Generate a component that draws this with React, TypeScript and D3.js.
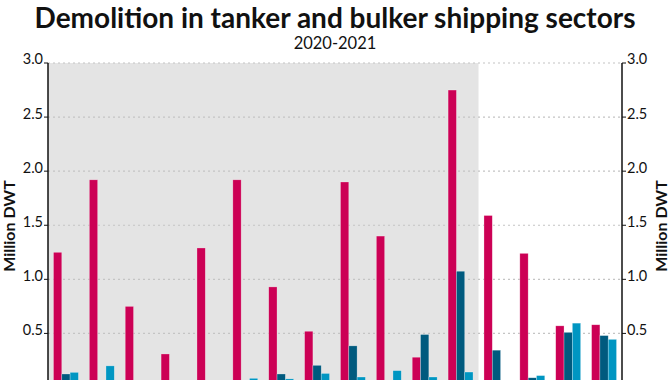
import React from "react";
import * as d3 from "d3";

const categories = ["1","2","3","4","5","6","7","8","9","10","11","12","13","14","15","16"];
const seriesNames = ["Tanker", "Bulker A", "Bulker B"];
const pinkValues = [1.25, 1.92, 0.75, 0.31, 1.29, 1.92, 0.93, 0.52, 1.90, 1.40, 0.28, 2.75, 1.59, 1.24, 0.57, 0.58];
const darkValues = [0.125, 0, 0, 0, 0, 0, 0.125, 0.205, 0.385, 0, 0.49, 1.075, 0.345, 0.09, 0.51, 0.48];
const lightValues = [0.14, 0.2, 0, 0, 0, 0.085, 0.08, 0.13, 0.097, 0.156, 0.097, 0.143, 0, 0.11, 0.595, 0.445];
const yTicks = [0.5, 1.0, 1.5, 2.0, 2.5, 3.0];
const shadedCount = 12;
const colors = ["#cc0055", "#005a7e", "#0096c2"];

const W = 670, H = 380;
const left = 48, right = 622, top = 63, zeroY = 387.5;

export default function App() {
  const x = d3.scaleBand<string>().domain(categories).range([left, right]).paddingInner(0.305).paddingOuter(0.1525);
  const xi = d3.scaleBand<string>().domain(seriesNames).range([0, x.bandwidth()]);
  const y = d3.scaleLinear().domain([0, 3]).range([zeroY, top]);
  const series = [pinkValues, darkValues, lightValues];
  const step = x.step();
  const font = "Lato, 'Open Sans', sans-serif";
  return (
    <div style={{ position: "fixed", left: 0, top: 0 }}>
      <svg width={W} height={H} style={{ display: "block" }}>
        <rect x={0} y={0} width={W} height={H} fill="#fff" />
        <rect x={left} y={top} width={step * shadedCount} height={zeroY - top} fill="#e4e4e4" />
        {yTicks.map((t) => (
          <line key={"g" + t} x1={left} x2={right} y1={y(t)} y2={y(t)} stroke="#c4c4c4" strokeWidth={1.2} strokeDasharray="2,3" />
        ))}
        {categories.map((c, i) => (
          <g key={c}>
            {series.map((vals, s) => {
              const v = vals[i];
              if (!v) return null;
              return (
                <rect key={s} x={(x(c) as number) + (xi(seriesNames[s]) as number)} y={y(v)} width={xi.bandwidth()} height={y(0) - y(v)} fill={colors[s]} stroke="rgba(255,255,255,0.45)" strokeWidth={0.6} />
              );
            })}
          </g>
        ))}
        <line x1={left} x2={left} y1={top} y2={H + 10} stroke="#111" strokeWidth={1.5} />
        <line x1={right} x2={right} y1={top} y2={H + 10} stroke="#111" strokeWidth={1.5} />
        {yTicks.map((t) => (
          <g key={"t" + t}>
            <line x1={left - 4} x2={left} y1={y(t)} y2={y(t)} stroke="#111" strokeWidth={1} />
            <line x1={right} x2={right + 4} y1={y(t)} y2={y(t)} stroke="#111" strokeWidth={1} />
            <text x={left - 5} y={y(t)} dy="0.1em" textAnchor="end" fontFamily={font} fontSize={14.5} fill="#111">{d3.format(".1f")(t)}</text>
            <text x={right + 5} y={y(t)} dy="0.1em" textAnchor="start" fontFamily={font} fontSize={14.5} fill="#111">{d3.format(".1f")(t)}</text>
          </g>
        ))}
        <text transform={`translate(15,226) rotate(-90)`} textAnchor="middle" fontFamily={font} fontSize={16} fontWeight="bold" fill="#111">Million DWT</text>
        <text transform={`translate(667,226) rotate(-90)`} textAnchor="middle" fontFamily={font} fontSize={16} fontWeight="bold" fill="#111">Million DWT</text>
        <text x={W / 2} y={28} textAnchor="middle" fontFamily={font} fontSize={28} fontWeight="bold" fill="#111">Demolition in tanker and bulker shipping sectors</text>
        <text x={W / 2} y={49} textAnchor="middle" fontFamily={font} fontSize={16.5} fill="#111">2020-2021</text>
      </svg>
    </div>
  );
}
